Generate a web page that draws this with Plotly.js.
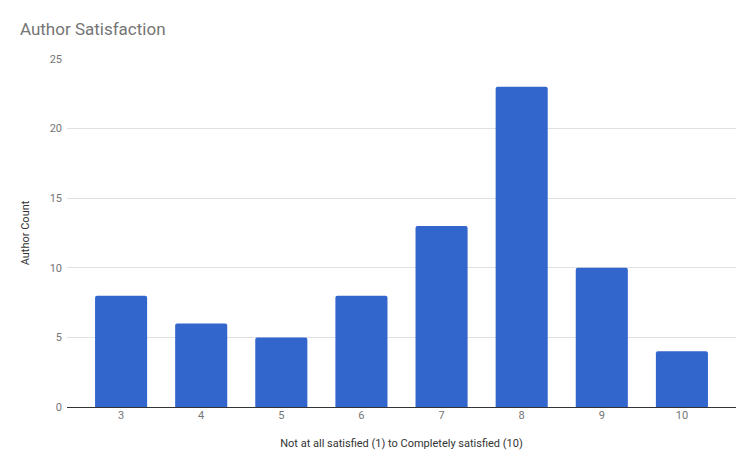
<!DOCTYPE html>
<html>
<head>
<meta charset="utf-8">
<script src="https://cdn.plot.ly/plotly-3.0.1.min.js"></script>
<style>
  html, body { margin: 0; padding: 0; background: #fff; }
  #chart { width: 738px; height: 462px; }
</style>
</head>
<body>
<div id="chart"></div>
<script>
// satisfaction scores and how many authors gave each
var scores = ["3", "4", "5", "6", "7", "8", "9", "10"];
var authorCount = [8, 6, 5, 8, 13, 23, 10, 4];
var yTicks = [0, 5, 10, 15, 20, 25];

var trace = {
  x: scores,
  y: authorCount,
  type: "bar",
  marker: { color: "#3366cc", cornerradius: 2 },
  hoverinfo: "x+y",
};

var layout = {
  width: 738,
  height: 462,
  margin: { l: 67, r: 2, t: 59, b: 55 },
  paper_bgcolor: "#fff",
  plot_bgcolor: "#fff",
  font: { family: "Roboto, Arial, sans-serif", color: "#757575", size: 11 },
  bargap: 0.35,
  showlegend: false,
  title: {
    text: "Author Satisfaction",
    x: 0.027,
    xanchor: "left",
    y: 0.937,
    yanchor: "middle",
    font: { size: 17, color: "#757575" },
  },
  xaxis: {
    type: "category",
    range: [-0.675, 7.675],
    showgrid: false,
    showline: false,
    ticks: "",
    tickfont: { size: 11, color: "#757575" },
    title: {
      text: "Not at all satisfied (1) to Completely satisfied (10)",
      font: { size: 11, color: "#333" },
      standoff: 18,
    },
    automargin: false,
  },
  yaxis: {
    range: [0, 25],
    tickvals: yTicks,
    showgrid: true,
    gridcolor: "#e0e0e0",
    gridwidth: 1,
    zeroline: true,
    zerolinecolor: "#333",
    zerolinewidth: 1,
    ticks: "",
    ticklabelstandoff: 4,
    tickfont: { size: 11, color: "#757575" },
    title: {
      text: "Author Count",
      font: { size: 11, color: "#333" },
      standoff: 17,
    },
    automargin: false,
  },
};

Plotly.newPlot("chart", [trace], layout, { displayModeBar: false, staticPlot: true });
</script>
</body>
</html>
